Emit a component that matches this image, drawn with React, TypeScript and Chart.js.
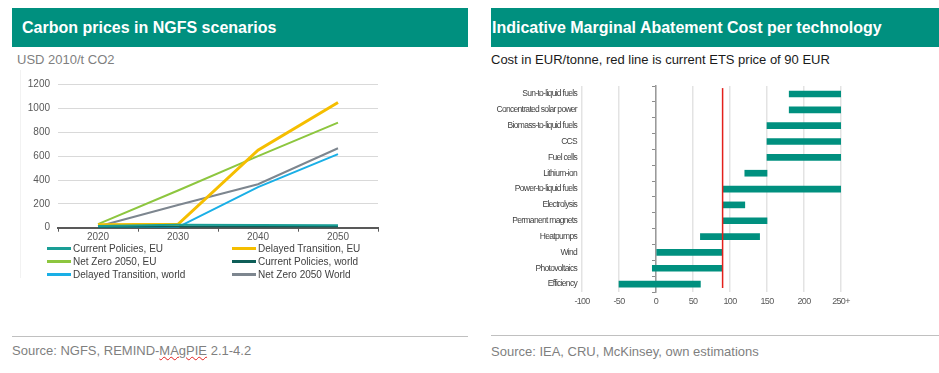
import React, { useEffect, useRef } from 'react';
import { Chart, registerables } from 'chart.js';

Chart.register(...registerables);

// ---------- Left chart data: Carbon prices in NGFS scenarios ----------
const YEARS = ['2020', '2030', '2040', '2050'];
const SERIES_NAMES = [
  'Current Policies, EU',
  'Delayed Transition, EU',
  'Net Zero 2050, EU',
  'Current Policies, world',
  'Delayed Transition, world',
  'Net Zero 2050 World',
];
const CP_EU = [15, 25, 22, 20];
const DT_EU = [25, 28, 650, 1050];
const NZ_EU = [30, 312, 600, 882];
const CP_WORLD = [5, 10, 10, 10];
const DT_WORLD = [5, 5, 340, 617];
const NZ_WORLD = [10, 190, 365, 667];
const CARBON_Y_TICKS = [0, 200, 400, 600, 800, 1000, 1200];

// ---------- Right chart data: Marginal abatement cost ----------
const TECHNOLOGIES = [
  'Sun-to-liquid fuels',
  'Concentrated solar power',
  'Biomass-to-liquid fuels',
  'CCS',
  'Fuel cells',
  'Lithium-ion',
  'Power-to-liquid fuels',
  'Electrolysis',
  'Permanent magnets',
  'Heatpumps',
  'Wind',
  'Photovoltaics',
  'Efficiency',
];
const COST_LOW = [180, 180, 150, 150, 150, 120, 90, 90, 90, 60, 0, -5, -50];
const COST_HIGH = [250, 250, 250, 250, 250, 150, 250, 120, 150, 140, 90, 90, 60];
const COST_X_VALUES = [-100, -50, 0, 50, 100, 150, 200, 250];
const COST_X_LABELS = ['-100', '-50', '0', '50', '100', '150', '200', '250+'];
const ETS_PRICE = 90;

// ---------- Styles ----------
const TEAL = '#00907F';
const SERIES_COLORS = ['#1A9E96', '#F5BE00', '#8DC63F', '#0E5E58', '#1AAFE6', '#7D868F'];
const SERIES_WIDTHS = [2, 3, 2, 2, 2, 2];
const SERIES_VALUES = [CP_EU, DT_EU, NZ_EU, CP_WORLD, DT_WORLD, NZ_WORLD];
const SANS = "'Liberation Sans', Arial, sans-serif";

Chart.defaults.font.family = SANS;

function CarbonChart() {
  const ref = useRef<HTMLCanvasElement>(null);
  useEffect(() => {
    const chart = new Chart(ref.current as HTMLCanvasElement, {
      type: 'line',
      data: {
        labels: YEARS,
        datasets: SERIES_NAMES.map((name, i) => ({
          label: name,
          data: SERIES_VALUES[i],
          borderColor: SERIES_COLORS[i],
          backgroundColor: SERIES_COLORS[i],
          borderWidth: SERIES_WIDTHS[i],
          pointRadius: 0,
          tension: 0,
          fill: false,
        })),
      },
      options: {
        animation: false,
        responsive: false,
        maintainAspectRatio: false,
        layout: { padding: { top: 14.7, right: 22, left: 0, bottom: 0 } },
        plugins: { legend: { display: false }, tooltip: { enabled: false } },
        scales: {
          x: {
            offset: true,
            grid: {
              offset: true,
              drawOnChartArea: false,
              drawTicks: true,
              tickLength: 4,
              color: '#595959',
              lineWidth: 1,
            },
            border: { color: '#595959', width: 2 },
            ticks: { color: '#595959', font: { size: 10, family: SANS }, padding: 0, maxRotation: 0 },
            afterFit: (s: any) => {
              s.height = 22.3;
            },
          },
          y: {
            min: 0,
            max: 1200,
            afterBuildTicks: (s: any) => {
              s.ticks = CARBON_Y_TICKS.map((v) => ({ value: v }));
            },
            ticks: {
              color: '#595959',
              font: { size: 10, family: SANS },
              padding: 8,
              callback: (v: any) => String(v),
            },
            grid: { color: '#D9D9D9', drawTicks: false, lineWidth: 1 },
            border: { display: false },
            afterFit: (s: any) => {
              s.width = 58;
            },
          },
        },
      },
    });
    return () => chart.destroy();
  }, []);
  return (
    <canvas
      ref={ref}
      width={400}
      height={180}
      style={{ position: 'absolute', left: 0, top: 70, width: 400, height: 180 }}
    />
  );
}

const etsLinePlugin = {
  id: 'etsLine',
  beforeDraw(chart: any) {
    // narrow lettering like the condensed font of the original
    (chart.ctx as any).letterSpacing = '-0.7px';
  },
  afterDatasetsDraw(chart: any) {
    const x = chart.scales.x.getPixelForValue(ETS_PRICE);
    const { top, bottom } = chart.chartArea;
    const ctx = chart.ctx;
    ctx.save();
    ctx.strokeStyle = '#E3201B';
    ctx.lineWidth = 1.5;
    ctx.beginPath();
    ctx.moveTo(x, top + 2);
    ctx.lineTo(x, bottom - 4);
    ctx.stroke();
    ctx.restore();
  },
};

function MacChart() {
  const ref = useRef<HTMLCanvasElement>(null);
  useEffect(() => {
    const chart = new Chart(ref.current as HTMLCanvasElement, {
      type: 'bar',
      data: {
        labels: TECHNOLOGIES,
        datasets: [
          {
            label: 'Cost',
            data: TECHNOLOGIES.map((_, i) => [COST_LOW[i], COST_HIGH[i]]) as any,
            backgroundColor: TEAL,
            borderWidth: 0,
            barThickness: 6,
            yAxisID: 'y',
          },
        ],
      },
      options: {
        indexAxis: 'y',
        animation: false,
        responsive: false,
        maintainAspectRatio: false,
        layout: { padding: { top: 8, right: 19, left: 0, bottom: 0 } },
        plugins: { legend: { display: false }, tooltip: { enabled: false } },
        scales: {
          x: {
            type: 'linear',
            min: -100,
            max: 250,
            afterBuildTicks: (s: any) => {
              s.ticks = COST_X_VALUES.map((v) => ({ value: v }));
            },
            ticks: {
              color: '#595959',
              font: { size: 9, family: SANS },
              padding: 4,
              maxRotation: 0,
              callback: (_v: any, i: number) => COST_X_LABELS[i],
            },
            grid: { color: '#E3E3E3', lineWidth: 1.5, drawTicks: false },
            border: { display: false },
            afterFit: (s: any) => {
              s.height = 20;
            },
          },
          y: {
            type: 'category',
            offset: true,
            ticks: { color: '#404040', font: { size: 8.5, family: SANS }, padding: 5 },
            grid: { display: false, drawTicks: false },
            border: { display: false },
            afterFit: (s: any) => {
              s.width = 112;
            },
          },
          y2: {
            type: 'category',
            position: { x: 0 } as any,
            offset: true,
            ticks: { display: false },
            grid: {
              offset: true,
              drawOnChartArea: false,
              drawTicks: true,
              tickLength: 3,
              color: '#8C8C8C',
              lineWidth: 1,
            },
            border: { display: true, color: '#9A9A9A', width: 1.5 },
          },
        },
      },
      plugins: [etsLinePlugin],
    });
    return () => chart.destroy();
  }, []);
  return (
    <canvas
      ref={ref}
      width={390}
      height={236}
      style={{ position: 'absolute', left: 470, top: 76, width: 390, height: 236 }}
    />
  );
}

function Legend() {
  return (
    <>
      {SERIES_NAMES.map((name, i) => {
        const col = i % 2;
        const row = Math.floor(i / 2);
        const left = col === 0 ? 47 : 232;
        const cy = 248.7 + row * 12.8;
        return (
          <div
            key={name}
            style={{
              position: 'absolute',
              left,
              top: cy - 7,
              height: 14,
              display: 'flex',
              alignItems: 'center',
              whiteSpace: 'nowrap',
            }}
          >
            <div
              style={{
                width: 24,
                height: SERIES_WIDTHS[i] + 0.5,
                background: SERIES_COLORS[i],
                marginRight: 2,
              }}
            />
            <span style={{ font: `10px ${SANS}`, color: '#404040' }}>{name}</span>
          </div>
        );
      })}
    </>
  );
}

export default function App() {
  const abs = (s: React.CSSProperties): React.CSSProperties => ({ position: 'absolute', ...s });
  return (
    <div
      style={{
        position: 'absolute',
        left: 0,
        top: 0,
        width: 939,
        height: 373,
        overflow: 'hidden',
        background: '#FFFFFF',
        fontFamily: SANS,
      }}
    >
      {/* Left panel */}
      <div
        style={abs({
          left: 12,
          top: 8,
          width: 456,
          height: 39,
          background: TEAL,
          color: '#FFFFFF',
          font: `bold 16px ${SANS}`,
          lineHeight: '39px',
          paddingLeft: 10,
          boxSizing: 'border-box',
        })}
      >
        Carbon prices in NGFS scenarios
      </div>
      <div style={abs({ left: 17, top: 52, font: `13px ${SANS}`, color: '#7F7F7F', lineHeight: '16px' })}>
        USD 2010/t CO2
      </div>
      <div style={abs({ left: 20, top: 70, width: 1, height: 208, background: '#F2F2F2' })} />
      <CarbonChart />
      <Legend />
      <div style={abs({ left: 12, top: 336, width: 456, height: 1, background: '#C0C0C0' })} />
      <div style={abs({ left: 12, top: 343, font: `13px ${SANS}`, color: '#7F7F7F', lineHeight: '16px', whiteSpace: 'nowrap' })}>
        Source: NGFS, REMIND-
        <span style={{ textDecoration: 'underline wavy #E02020', textDecorationThickness: 1 }}>MAgPIE</span> 2.1-4.2
      </div>

      {/* Right panel */}
      <div
        style={abs({
          left: 491,
          top: 8,
          width: 448,
          height: 39,
          background: TEAL,
          color: '#FFFFFF',
          font: `bold 16px ${SANS}`,
          lineHeight: '39px',
          paddingLeft: 1,
          boxSizing: 'border-box',
          whiteSpace: 'nowrap',
        })}
      >
        Indicative Marginal Abatement Cost per technology
      </div>
      <div style={abs({ left: 491, top: 52, font: `13px ${SANS}`, color: '#1A1A1A', lineHeight: '16px', whiteSpace: 'nowrap' })}>
        Cost in EUR/tonne, red line is current ETS price of 90 EUR
      </div>
      <MacChart />
      <div style={abs({ left: 491, top: 335, width: 448, height: 1, background: '#C0C0C0' })} />
      <div style={abs({ left: 491, top: 344, font: `13px ${SANS}`, color: '#7F7F7F', lineHeight: '16px', whiteSpace: 'nowrap' })}>
        Source: IEA, CRU, McKinsey, own estimations
      </div>
    </div>
  );
}
